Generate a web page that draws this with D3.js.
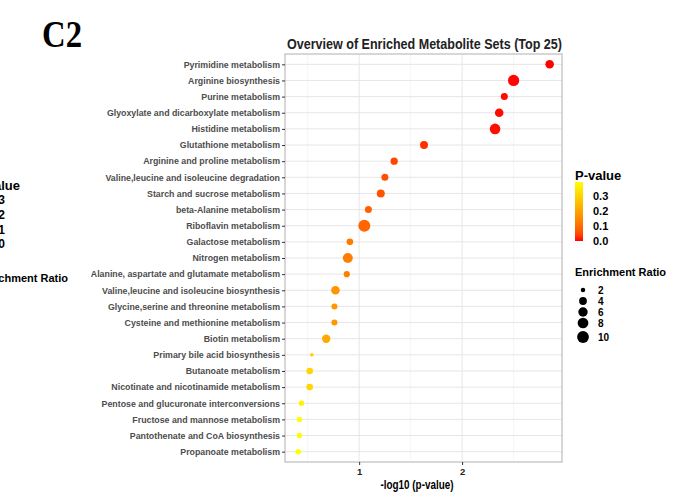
<!DOCTYPE html>
<html>
<head>
<meta charset="utf-8">
<script src="https://cdn.jsdelivr.net/npm/d3@7"></script>
<style>
  body { margin: 0; background: #fff; }
  svg text { font-family: "Liberation Sans", Arial, sans-serif; }
</style>
</head>
<body>
<div id="chart"></div>
<script>
// pathway names, top to bottom
const pathways = [
  "Pyrimidine metabolism", "Arginine biosynthesis", "Purine metabolism",
  "Glyoxylate and dicarboxylate metabolism", "Histidine metabolism",
  "Glutathione metabolism", "Arginine and proline metabolism",
  "Valine,leucine and isoleucine degradation", "Starch and sucrose metabolism",
  "beta-Alanine metabolism", "Riboflavin metabolism", "Galactose metabolism",
  "Nitrogen metabolism", "Alanine, aspartate and glutamate metabolism",
  "Valine,leucine and isoleucine biosynthesis", "Glycine,serine and threonine metabolism",
  "Cysteine and methionine metabolism", "Biotin metabolism",
  "Primary bile acid biosynthesis", "Butanoate metabolism",
  "Nicotinate and nicotinamide metabolism", "Pentose and glucuronate interconversions",
  "Fructose and mannose metabolism", "Pantothenate and CoA biosynthesis",
  "Propanoate metabolism"
];
// -log10(p)
const negLogP = [2.85, 2.50, 2.41, 2.36, 2.32, 1.63, 1.34, 1.25, 1.21, 1.09,
  1.05, 0.91, 0.89, 0.88, 0.77, 0.76, 0.76, 0.68, 0.54, 0.52, 0.52, 0.44, 0.42, 0.42, 0.41];
// enrichment ratio
const enrichmentRatio = [4.9, 8.9, 3.3, 4.9, 7.8, 4.2, 3.5, 3.3, 4.2, 3.3,
  10.4, 3.0, 6.8, 2.7, 4.9, 2.6, 2.6, 4.7, 1.9, 3.0, 3.0, 2.3, 2.3, 2.3, 2.3];
const xTicks = [1, 2];
const xMinor = [0.5, 1.5, 2.5];
const pBreaks = [0.0, 0.1, 0.2, 0.3];
const ratioBreaks = [2, 4, 6, 8, 10];

const W = 685, H = 500;
const panel = {left: 285, right: 562, top: 54, bottom: 462};

const svg = d3.select("#chart").append("svg")
  .attr("width", W).attr("height", H);

const data = pathways.map((name, i) => ({
  name: name, x: negLogP[i], p: Math.pow(10, -negLogP[i]), ratio: enrichmentRatio[i]
}));

const xScale = d3.scaleLinear().domain([0.28, 2.97]).range([panel.left, panel.right]);
const yScale = d3.scalePoint().domain(pathways).range([panel.top, panel.bottom]).padding(0.64);

const pExt = d3.extent(data, d => d.p);
const colorScale = d3.scaleLinear().domain(pExt).range(["#ff0000", "#ffff00"])
  .interpolate(d3.interpolateLab);

const rExt = d3.extent(enrichmentRatio);
const rScale = r => 1.8 + 4.2 * Math.sqrt(Math.max(0, (r - rExt[0]) / (rExt[1] - rExt[0])));

// panel grid
const grid = svg.append("g");
grid.selectAll(".minor").data(xMinor).enter().append("line")
  .attr("x1", d => xScale(d)).attr("x2", d => xScale(d))
  .attr("y1", panel.top).attr("y2", panel.bottom)
  .attr("stroke", "#f0f0f0").attr("stroke-width", 0.6);
grid.selectAll(".major").data(xTicks).enter().append("line")
  .attr("x1", d => xScale(d)).attr("x2", d => xScale(d))
  .attr("y1", panel.top).attr("y2", panel.bottom)
  .attr("stroke", "#e6e6e6").attr("stroke-width", 1);
grid.selectAll(".hline").data(pathways).enter().append("line")
  .attr("x1", panel.left).attr("x2", panel.right)
  .attr("y1", d => yScale(d)).attr("y2", d => yScale(d))
  .attr("stroke", "#e6e6e6").attr("stroke-width", 1);

// points
svg.append("g").selectAll("circle").data(data).enter().append("circle")
  .attr("cx", d => xScale(d.x))
  .attr("cy", d => yScale(d.name))
  .attr("r", d => rScale(d.ratio))
  .attr("fill", d => colorScale(d.p));

// panel border
svg.append("rect")
  .attr("x", panel.left).attr("y", panel.top)
  .attr("width", panel.right - panel.left).attr("height", panel.bottom - panel.top)
  .attr("fill", "none").attr("stroke", "#bdbdbd").attr("stroke-width", 1.2);

// y axis
const yAxis = svg.append("g")
  .attr("transform", "translate(" + panel.left + ",0)")
  .call(d3.axisLeft(yScale).tickSize(3).tickPadding(2));
yAxis.select(".domain").remove();
yAxis.selectAll("line").attr("stroke", "#333");
yAxis.selectAll("text")
  .attr("font-size", "8.8px").attr("font-weight", "bold").attr("fill", "#4d4d4d")
  .style("font-family", "'Liberation Sans', Arial, sans-serif");

// x axis
const xAxis = svg.append("g")
  .attr("transform", "translate(0," + panel.bottom + ")")
  .call(d3.axisBottom(xScale).tickValues(xTicks).tickFormat(d3.format("d")).tickSize(3).tickPadding(3));
xAxis.select(".domain").remove();
xAxis.selectAll("line").attr("stroke", "#333");
xAxis.selectAll("text")
  .attr("font-size", "9.5px").attr("font-weight", "bold").attr("fill", "#222")
  .style("font-family", "'Liberation Sans', Arial, sans-serif");

svg.append("text")
  .attr("x", 417).attr("y", 489)
  .attr("text-anchor", "middle")
  .attr("font-size", "12px").attr("font-weight", "bold")
  .attr("textLength", 73).attr("lengthAdjust", "spacingAndGlyphs")
  .text("-log10 (p-value)");

// title and panel letter
svg.append("text")
  .attr("x", 287).attr("y", 49)
  .attr("font-size", "15px").attr("font-weight", "bold").attr("fill", "#222")
  .attr("textLength", 275).attr("lengthAdjust", "spacingAndGlyphs")
  .text("Overview of Enriched Metabolite Sets (Top 25)");

svg.append("text")
  .attr("x", 42).attr("y", 47)
  .style("font-family", "'Liberation Serif', 'Times New Roman', serif")
  .attr("font-size", "38px").attr("font-weight", "bold")
  .attr("textLength", 40).attr("lengthAdjust", "spacingAndGlyphs")
  .text("C2");

// colour legend
const defs = svg.append("defs");
const grad = defs.append("linearGradient").attr("id", "pgrad")
  .attr("x1", 0).attr("y1", 1).attr("x2", 0).attr("y2", 0);
d3.range(0, 1.0001, 0.1).forEach(t => {
  grad.append("stop").attr("offset", t)
    .attr("stop-color", colorScale(pExt[0] + t * (pExt[1] - pExt[0])));
});
const barY = d3.scaleLinear().domain(pExt).range([241, 182]);
svg.append("text").attr("x", 575).attr("y", 180)
  .attr("font-size", "13px").attr("font-weight", "bold").text("P-value");
svg.append("rect").attr("x", 575).attr("y", barY(pExt[1]))
  .attr("width", 8).attr("height", barY(pExt[0]) - barY(pExt[1]))
  .attr("fill", "url(#pgrad)");
svg.append("g").selectAll("text").data(pBreaks).enter().append("text")
  .attr("x", 593).attr("y", d => barY(d) + 4)
  .attr("font-size", "11px").attr("font-weight", "bold")
  .text(d => d.toFixed(1));

// size legend
svg.append("text").attr("x", 575).attr("y", 276)
  .attr("font-size", "11px").attr("font-weight", "bold").text("Enrichment Ratio");
const sizeRowY = [290, 301, 312, 323, 337];
const sizeLeg = svg.append("g").selectAll("g").data(ratioBreaks).enter().append("g");
sizeLeg.append("circle")
  .attr("cx", 583).attr("cy", (d, i) => sizeRowY[i])
  .attr("r", d => rScale(d)).attr("fill", "#000");
sizeLeg.append("text")
  .attr("x", 598).attr("y", (d, i) => sizeRowY[i] + 3.5)
  .attr("font-size", "10px").attr("font-weight", "bold")
  .text(d => d);

// cut-off legend of the neighbouring panel at the left edge
svg.append("text").attr("x", 20).attr("y", 190).attr("text-anchor", "end")
  .attr("font-size", "13px").attr("font-weight", "bold").text("P-value");
const leftY = [204, 219, 234, 248];
svg.append("g").selectAll("text").data(pBreaks.slice().reverse()).enter().append("text")
  .attr("x", 5).attr("y", (d, i) => leftY[i]).attr("text-anchor", "end")
  .attr("font-size", "12px").attr("font-weight", "bold")
  .text(d => d.toFixed(1));
svg.append("text").attr("x", 68).attr("y", 282).attr("text-anchor", "end")
  .attr("font-size", "11px").attr("font-weight", "bold").text("Enrichment Ratio");
</script>
</body>
</html>
